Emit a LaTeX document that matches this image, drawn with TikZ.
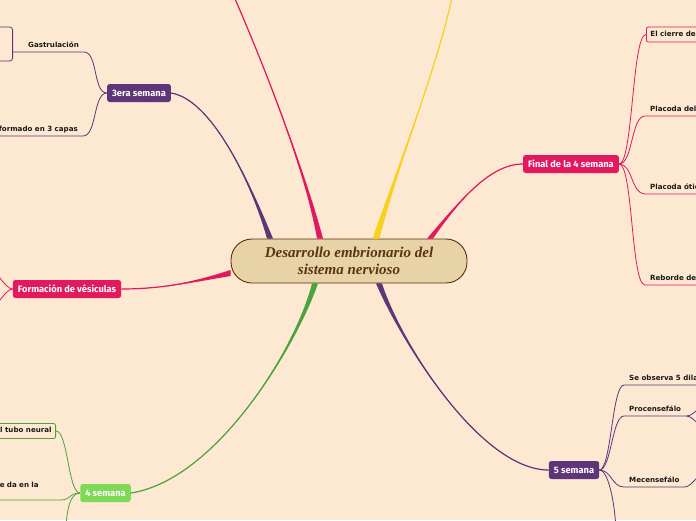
\documentclass[tikz,border=0pt]{standalone}
\usepackage{fontspec}
\usepackage{tikz}
\usetikzlibrary{calc}
\newfontfamily\topicfont{Fira Sans}
\newfontfamily\leaffont{DejaVu Sans}
\newfontfamily\rootfont{Liberation Serif}

\definecolor{peach}{HTML}{FDE8D1}
\definecolor{mmpurple}{HTML}{5E3579}
\definecolor{mmpink}{HTML}{E2195E}
\definecolor{mmyellow}{HTML}{F7D21C}
\definecolor{mmgreen}{HTML}{4DA33B}
\definecolor{mmlime}{HTML}{7ED957}
\definecolor{rootfill}{HTML}{E8D3A6}
\definecolor{rootline}{HTML}{5C2E0A}
\definecolor{roottext}{HTML}{5A3414}

\tikzset{
    root/.style={draw=rootline, fill=rootfill, line width=0.9pt, rounded corners=21pt,
                 minimum width=236pt, minimum height=44pt, align=center, text=roottext,
                 font=\rootfont\bfseries\itshape\fontsize{15}{17}\selectfont},
    topic/.style={fill=#1, rounded corners=2.5pt, text=white, inner xsep=5pt,
                  minimum height=18pt, font=\topicfont\bfseries\fontsize{9.3}{11}\selectfont},
    leaf/.style={inner xsep=5pt, inner ysep=3pt, text depth=1.5pt, text=black!90,
                 font=\leaffont\bfseries\fontsize{7.1}{9}\selectfont},
    boxleaf/.style={leaf, draw=#1, line width=0.8pt, rounded corners=2pt, inner xsep=4pt},
    twig/.style={draw=#1, line width=0.8pt},
}

% tapered main branch: colour, start, control 1, control 2, end, half width
\newcommand{\branch}[6]{%
    \fill[#1] ($(#2)+(#6)$) .. controls (#3) and (#4) .. (#5)
              .. controls (#4) and (#3) .. ($(#2)-(#6)$) -- cycle;
    \draw[#1, line width=1.2pt] (#2) .. controls (#3) and (#4) .. (#5);}

\begin{document}
\begin{tikzpicture}[x=1pt, y=-1pt]
    \useasboundingbox (0,0) rectangle (696,520);
    \fill[peach] (0,0) rectangle (696,520);
    \clip (0,0) rectangle (696,520);

    \node[root] (root) at (349,261) {Desarrollo embrionario del\\sistema nervioso};

    \node[topic=mmpurple] (sem3) at (139,93) {3era semana};
    \node[topic=mmpink] (fin4) at (571,164) {Final de la 4 semana};
    \node[topic=mmpink] (vesic) at (67,289) {Formación de vésiculas};
    \node[topic=mmlime] (sem4) at (105.5,493) {4 semana};
    \node[topic=mmpurple] (sem5) at (574,470) {5 semana};

    % main branches
    \coordinate (r1) at ([xshift=-79pt]root.north);
    \coordinate (r2) at ([xshift=-29pt]root.north);
    \coordinate (r3) at ([xshift=27pt]root.north);
    \coordinate (r4) at ([xshift=81pt]root.north);
    \coordinate (r5) at ([yshift=-12pt]root.west);
    \coordinate (r6) at ([xshift=-34pt]root.south);
    \coordinate (r7) at ([xshift=30pt]root.south);
    \coordinate (top1) at (232,-8);
    \coordinate (top2) at (453,-8);

    \branch{mmpurple}{r1}{255,195}{215,100}{sem3.east}{3,0}
    \branch{mmpink}{r2}{305,170}{262,60}{top1}{3,0}
    \branch{mmyellow}{r3}{398,165}{440,60}{top2}{3.5,0}
    \branch{mmpink}{r4}{460,200}{490,164}{fin4.west}{3,0}
    \branch{mmpink}{r5}{190,283}{160,289}{vesic.east}{0,3}
    \branch{mmgreen}{r6}{295,350}{215,480}{sem4.east}{3,0}
    \branch{mmpurple}{r7}{400,340}{480,470}{sem5.west}{3,0}

    % 3era semana
    \node[draw=mmpurple, line width=0.8pt, rounded corners=3pt, minimum width=30pt,
          minimum height=34pt, anchor=east] (gbox) at (13,44) {};
    \node[leaf, anchor=south east] (gastr) at (84,52) {Gastrulación};
    \node[leaf, anchor=south east] (capas) at (83,136) {formado en 3 capas};
    \draw[twig=mmpurple] (sem3.west) .. controls +(-14,0) and +(14,0) .. (gastr.south east)
        -- (gastr.south west) -- (gastr.south west -| gbox.east);
    \draw[twig=mmpurple] (sem3.west) .. controls +(-14,0) and +(14,0) .. (capas.south east)
        -- (capas.south west);

    % Final de la 4 semana
    \node[boxleaf=mmpink, anchor=west, minimum height=15pt] (cierre) at (646,34.5) {El cierre del};
    \node[leaf, anchor=south west] (placoda) at (645,116) {Placoda del};
    \node[leaf, anchor=south west] (otica) at (645,194) {Placoda ótic};
    \node[leaf, anchor=south west] (reborde) at (645,285) {Reborde de};
    \draw[twig=mmpink] (fin4.east) .. controls +(14,0) and +(-14,0) .. (cierre.west);
    \draw[twig=mmpink] (fin4.east) .. controls +(14,0) and +(-14,0) .. (placoda.south west)
        -- (placoda.south east);
    \draw[twig=mmpink] (fin4.east) .. controls +(14,0) and +(-14,0) .. (otica.south west)
        -- (otica.south east);
    \draw[twig=mmpink] (fin4.east) .. controls +(14,0) and +(-14,0) .. (reborde.south west)
        -- (reborde.south east);

    % Formacion de vesiculas
    \coordinate (ves1) at (-12,268);
    \coordinate (ves2) at (-12,310);
    \draw[twig=mmpink] (vesic.west) .. controls +(-8,0) and +(8,0) .. (ves1);
    \draw[twig=mmpink] (vesic.west) .. controls +(-8,0) and +(8,0) .. (ves2);

    % 4 semana
    \node[boxleaf=mmgreen, anchor=east, minimum height=15pt] (tubo) at (56,431) {l tubo neural};
    \node[leaf, anchor=south east, text width=55pt, text depth=9pt] (seda) at (60,500) {e da en la};
    \coordinate (sem4d) at (66,535);
    \draw[twig=mmgreen] (sem4.west) .. controls +(-12,0) and +(12,0) .. (tubo.east);
    \draw[twig=mmgreen] (sem4.west) .. controls +(-12,0) and +(12,0) .. (seda.south east)
        -- (seda.south west);
    \draw[twig=mmgreen] (sem4.west) .. controls +(-10,0) and +(0,-25) .. (sem4d);

    % 5 semana
    \node[leaf, anchor=south west] (obs) at (624,385) {Se observa 5 dila};
    \node[leaf, anchor=south west] (proc) at (624,416) {Procensefálo};
    \node[leaf, anchor=south west] (mec) at (624,487) {Mecensefálo};
    \coordinate (proc1) at (708,404);
    \coordinate (proc2) at (708,430);
    \coordinate (mec1) at (708,470);
    \coordinate (sem5d) at (616,535);
    \draw[twig=mmpurple] (sem5.east) .. controls +(12,0) and +(-12,0) .. (obs.south west)
        -- (obs.south east);
    \draw[twig=mmpurple] (sem5.east) .. controls +(12,0) and +(-12,0) .. (proc.south west)
        -- (proc.south east) .. controls +(8,0) and +(-8,0) .. (proc1);
    \draw[twig=mmpurple] (proc.south east) .. controls +(8,0) and +(-8,0) .. (proc2);
    \draw[twig=mmpurple] (sem5.east) .. controls +(12,0) and +(-12,0) .. (mec.south west)
        -- (mec.south east) .. controls +(8,0) and +(-8,0) .. (mec1);
    \draw[twig=mmpurple] (sem5.east) .. controls +(10,0) and +(0,-25) .. (sem5d);
\end{tikzpicture}
\end{document}
